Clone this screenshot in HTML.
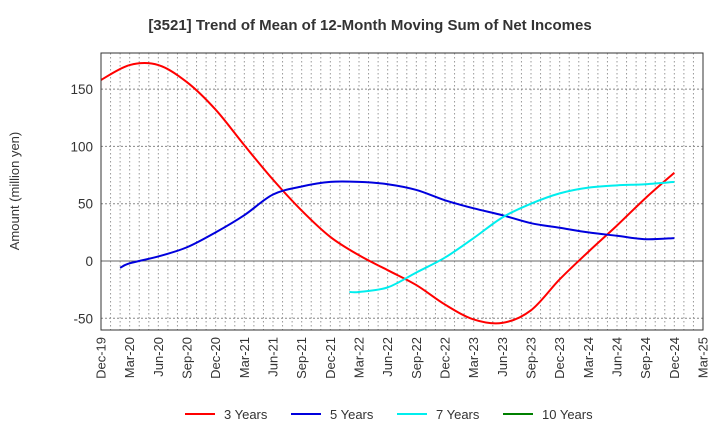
<!DOCTYPE html>
<html><head><meta charset="utf-8"><style>body{margin:0;background:#fff}svg{font-family:"Liberation Sans",sans-serif}</style></head>
<body>
<svg id="c" width="720" height="440">
<text x="370" y="30" text-anchor="middle" font-size="15" font-weight="bold" fill="#333">[3521]  Trend of Mean of 12-Month Moving Sum of Net Incomes</text>
<text transform="translate(19,191) rotate(-90)" text-anchor="middle" font-size="13" fill="#333">Amount (million yen)</text>
<g id="grid"></g><g id="series"></g><g id="axes"></g><g id="legend"></g>
</svg>
<script>
const xTicks=["Dec-19","Mar-20","Jun-20","Sep-20","Dec-20","Mar-21","Jun-21","Sep-21","Dec-21","Mar-22","Jun-22","Sep-22","Dec-22","Mar-23","Jun-23","Sep-23","Dec-23","Mar-24","Jun-24","Sep-24","Dec-24","Mar-25"];
const yTicks=[-50,0,50,100,150];
const seriesNames=["3 Years","5 Years","7 Years","10 Years"];
const colors=["#ff0000","#0000dd","#00eeee","#008000"];
const m3=[0,3,6,9,12,15,18,21,24,27,30,33,36,39,42,45,48,51,54,57,60];
const v3=[158,171,171,156,132,101,71,44,21,5,-8,-21,-38,-51,-54,-43,-16,8,31,55,77];
const m5=[2,3,6,9,12,15,18,21,24,27,30,33,36,39,42,45,48,51,54,57,60];
const v5=[-6,-2,4,12,25,40,58,65,69,69,67,62,53,46,40,33,29,25,22,19,20];
const m7=[26,27,30,33,36,39,42,45,48,51,54,57,60];
const v7=[-27,-27,-23,-10,3,20,38,50,59,64,66,67,69];
const m10=[];const v10=[];
const L=101,R=703,T=53,B=330,yMin=-60.2,yMax=181.5,mMax=63;
const X=m=>L+(R-L)*m/mMax, Y=v=>B-(B-T)*(v-yMin)/(yMax-yMin);
const NS="http://www.w3.org/2000/svg";
function mk(tag,a,p){const e=document.createElementNS(NS,tag);for(const k in a)e.setAttribute(k,a[k]);p.appendChild(e);return e;}
const grid=document.getElementById('grid'),axes=document.getElementById('axes'),ser=document.getElementById('series'),leg=document.getElementById('legend');
for(let m=1;m<mMax;m++){const l=mk('line',{x1:X(m),x2:X(m),y1:T,y2:B,stroke:'#999','stroke-dasharray':'1.5,2.5','stroke-width':1},grid);
}
yTicks.forEach(v=>{const l=mk('line',{x1:L,x2:R,y1:Y(v),y2:Y(v),stroke:v==0?'#666':'#888','stroke-dasharray':v==0?'':'2,2','stroke-width':1},grid);

const t=mk('text',{x:L-8,y:Y(v)+5,'text-anchor':'end','font-size':13.5,fill:'#333'},axes);t.textContent=v;
});
xTicks.forEach((s,i)=>{const x=X(i*3);const t=mk('text',{transform:`translate(${x+4.5},${B+7}) rotate(-90)`,'text-anchor':'end','font-size':13,fill:'#333'},axes);t.textContent=s;
});
const fr=mk('rect',{x:L,y:T,width:R-L,height:B-T,fill:'none',stroke:'#333'},axes);

function path(ms,vs){const p=ms.map((m,i)=>[X(m),Y(vs[i])]);if(!p.length)return'';let d=`M${p[0][0]},${p[0][1]}`;
for(let i=0;i<p.length-1;i++){const p0=p[i-1]||p[i],p1=p[i],p2=p[i+1],p3=p[i+2]||p2;
d+=` C${p1[0]+(p2[0]-p0[0])/6},${p1[1]+(p2[1]-p0[1])/6} ${p2[0]-(p3[0]-p1[0])/6},${p2[1]-(p3[1]-p1[1])/6} ${p2[0]},${p2[1]}`;}return d;}
[[m3,v3],[m5,v5],[m7,v7],[m10,v10]].forEach((s,i)=>{if(!s[0].length)return;const e=mk('path',{d:path(s[0],s[1]),fill:'none',stroke:colors[i],'stroke-width':2},ser);
});
const lx=[185,291,397,503];
seriesNames.forEach((n,i)=>{const g=mk('g',{},leg);
mk('line',{x1:lx[i],x2:lx[i]+30,y1:414,y2:414,stroke:colors[i],'stroke-width':2},g);
const t=mk('text',{x:lx[i]+39,y:419,'font-size':13,fill:'#333'},g);t.textContent=n;});
</script>
</body></html>
